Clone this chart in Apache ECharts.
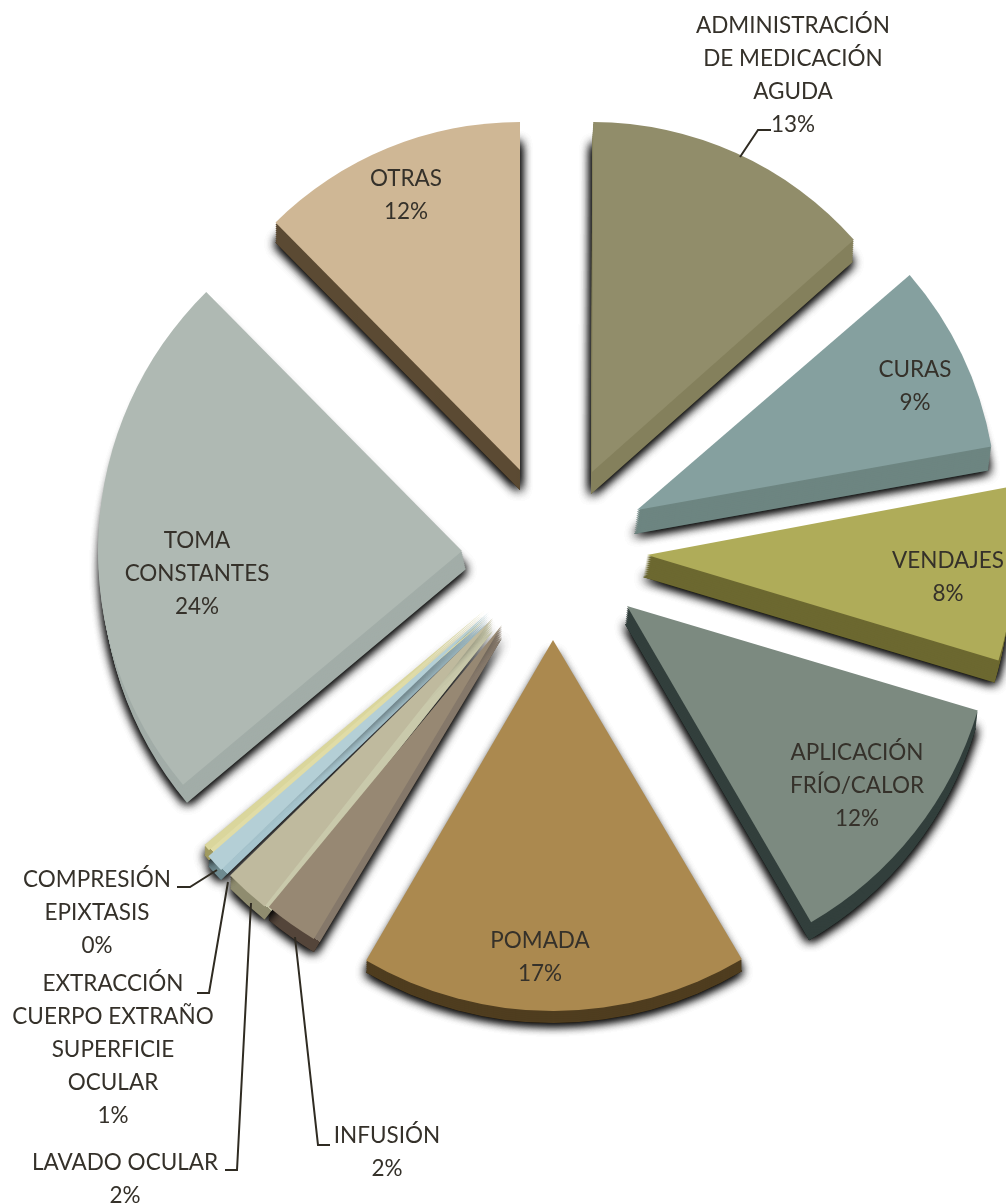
<!DOCTYPE html>
<html><head><meta charset="utf-8">
<style>html,body{margin:0;padding:0;background:#fff}#c{width:1006px;height:1204px}</style>
<script src="https://cdn.jsdelivr.net/npm/echarts@6/dist/echarts.min.js"></script>
</head><body><div id="c"></div>
<script>
const names = ["ADMINISTRACIÓN\nDE MEDICACIÓN\nAGUDA","CURAS","VENDAJES","APLICACIÓN\nFRÍO/CALOR","POMADA","INFUSIÓN","LAVADO OCULAR","EXTRACCIÓN\nCUERPO EXTRAÑO\nSUPERFICIE\nOCULAR","COMPRESIÓN\nEPIXTASIS","TOMA\nCONSTANTES","OTRAS"];
const values = [13.4,8.5,7.6,12.0,16.9,2.4,2.0,0.8,0.3,23.7,12.4];
const percents = ["13%","9%","8%","12%","17%","2%","2%","1%","0%","24%","12%"];
const topColors = ["#918D6A","#85A09F","#AFAC59","#7C8A80","#AB894F","#978873","#BFBA9E","#B4CFD6","#DAD69C","#AFB9B3","#CFB795"];
const sideColors = ["#84805C","#6D8581","#6C6830","#323F3C","#4F3D1F","#54453A","#8F8C6F","#6E8A90","#A09A60","#A2ADA8","#5B4A33"];
const bevelColors = [null,null,null,null,null,"#85786A","#C9C9AB","#A6C4CD","#E0DCA6",null,null];
// exploded-slice geometry
const apexX = [592,637,647,627,553,502,493,489,485,462,520];
const apexY = [472,510,555,606,640,625,618,612,610,551,470];
const radii = [350,360,367,366,371,366,368,372,366,364,348];
const depthX = [-1,-3,-4,-2,0,0,0,0,0,4,0];
const depthY = [22,24,22,18,12,13,13,10,10,18,20];
const rotate = [0.2,1.0,0.5,0.4,0,0.7,-0.5,0,0,0,0];
const labelX = [793,915,948,857,540,387,125,113,97,197,406];
const labelY = [75,386,577,786,957,1152,1179,1050,913,574,195];
const leaders = [
  [[771,130],[758,130],[740,157]],
  [[177,887],[190,887],[217,870]],
  [[197,993],[209,993],[228,882]],
  [[225,1170],[237,1170],[251,903]],
  [[330,1145],[318,1145],[295,937]]
];
const textColor = "#35312A", font = "Lato", fontSize = 22.5, lineH = 33;
const total = values.reduce((a, b) => a + b, 0);

function sideFill(i) {
  if (!bevelColors[i]) return sideColors[i];
  const before = values.slice(0, i).reduce((a, b) => a + b, 0);
  const mid = ((before + values[i] / 2) / total * 360 + rotate[i]) * Math.PI / 180;
  const x0 = apexX[i], y0 = apexY[i], r = radii[i];
  const k = (r - 2) / r;
  return new echarts.graphic.LinearGradient(
    x0, y0, x0 + Math.sin(mid) * r, y0 - Math.cos(mid) * r,
    [{offset: 0, color: bevelColors[i]}, {offset: k, color: bevelColors[i]},
     {offset: k, color: sideColors[i]}, {offset: 1, color: sideColors[i]}], true);
}
function sliceData(i, color, withLabel) {
  return values.map((v, j) => j === i
    ? {value: v, name: names[j], itemStyle: {color},
       label: {show: withLabel, formatter: names[j] + "\n" + percents[j]}}
    : {value: v, name: names[j], itemStyle: {color: "rgba(0,0,0,0)", opacity: 0, shadowBlur: 0}, label: {show: false}, labelLine: {show: false}});
}
const series = [];
function pie(i, ox, oy, color, extra, withLabel) {
  series.push(Object.assign({
    type: "pie", silent: true, animation: false, clockwise: true,
    startAngle: 90 - rotate[i], radius: [0, radii[i]],
    center: [apexX[i] + ox, apexY[i] + oy],
    avoidLabelOverlap: false, emphasis: {disabled: true},
    labelLine: {show: false},
    label: {show: false, position: "inside", color: textColor, fontFamily: font, fontSize, lineHeight: lineH, align: "center"},
    data: sliceData(i, color, withLabel)
  }, extra || {}));
}
values.forEach((v, i) => {
  const n = Math.ceil(depthY[i] / 2);
  const fill = sideFill(i);
  // drop shadow under the extruded body, stacked to darken it
  for (let k = 0; k < 3; k++) {
    series.push({
      type: "pie", silent: true, animation: false, startAngle: 90 - rotate[i],
      radius: [0, radii[i]], center: [apexX[i] + depthX[i], apexY[i] + depthY[i]],
      avoidLabelOverlap: false, emphasis: {disabled: true}, label: {show: false}, labelLine: {show: false},
      data: values.map((w, j) => ({value: w, itemStyle: j === i
        ? {color: fill, shadowBlur: 11, shadowColor: "rgba(0,0,0,0.9)", shadowOffsetX: 0, shadowOffsetY: 1}
        : {opacity: 0}}))
    });
  }
  for (let s = n - 1; s >= 1; s--) {
    pie(i, depthX[i] * s / n, depthY[i] * s / n, fill);
  }
});
values.forEach((v, i) => {
  pie(i, 0, 0, topColors[i], {
    labelLayout: p => p.dataIndex === i ? {x: labelX[i], y: labelY[i], align: "center", verticalAlign: "middle", hideOverlap: false} : {}
  }, true);
});
const graphic = leaders.map(pts => ({
  type: "polyline", z: 200, shape: {points: pts},
  style: {fill: null, stroke: "#2F2B22", lineWidth: 2}
}));
const chart = echarts.init(document.getElementById("c"), null, {renderer: "canvas"});
chart.setOption({animation: false, backgroundColor: "#fff", series, graphic});
</script></body></html>
